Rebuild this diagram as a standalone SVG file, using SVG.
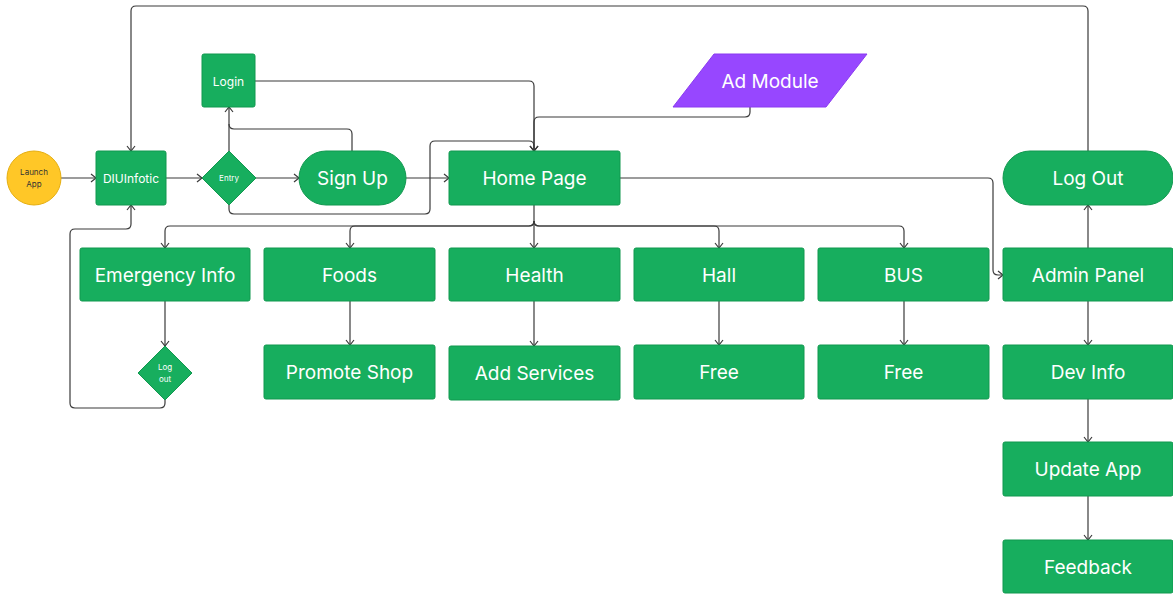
<svg xmlns="http://www.w3.org/2000/svg" width="1173" height="598" viewBox="0 0 1173 598">
<defs>
<style>
.n{fill:#17AE5E;stroke:#11984F;stroke-width:1}
.t{fill:#fff;font-family:Inter,"Liberation Sans",sans-serif;font-size:19px;text-anchor:middle;dominant-baseline:central}
.s{font-size:12px}
.xs{font-size:8px}
.c{fill:none;stroke:#3a3a3a;stroke-width:1.2}
.a{marker-end:url(#ar)}
</style>
<marker id="ar" markerWidth="10" markerHeight="10" refX="8" refY="5" orient="auto" markerUnits="userSpaceOnUse">
<path d="M3,1 L8,5 L3,9" fill="none" stroke="#3a3a3a" stroke-width="1.2"/>
</marker>
</defs>
<rect width="1173" height="598" fill="#fff"/>
<g id="connectors">
<path class="c a" d="M61,178 H96"/>
<path class="c a" d="M166,178 H202"/>
<path class="c a" d="M256,178 H299"/>
<path class="c a" d="M406,178 H449"/>
<path class="c a" d="M229,151 V107"/>
<path class="c" d="M352,151 V134 Q352,129 347,129 H234 Q229,129 229,124"/>
<path class="c a" d="M255,81 H529 Q534,81 534,86 V151"/>
<path class="c a" d="M750,107 V112 Q750,117 745,117 H539 Q534,117 534,122 V151"/>
<path class="c a" d="M229,205 V209 Q229,214 234,214 H425 Q430,214 430,209 V146 Q430,141 435,141 H529 Q534,141 534,146 V151"/>
<path class="c a" d="M534,205 V248"/>
<path class="c a" d="M534,221 Q534,226 529,226 H170 Q165,226 165,231 V248"/>
<path class="c a" d="M534,221 Q534,226 529,226 H355 Q350,226 350,231 V248"/>
<path class="c a" d="M534,221 Q534,226 539,226 H714 Q719,226 719,231 V248"/>
<path class="c a" d="M534,221 Q534,226 539,226 H899 Q904,226 904,231 V248"/>
<path class="c a" d="M620,178 H988 Q993,178 993,183 V270 Q993,275 998,275 H1003"/>
<path class="c a" d="M165,301 V346"/>
<path class="c a" d="M165,400 V403 Q165,408 160,408 H75 Q70,408 70,403 V234 Q70,229 75,229 H126 Q131,229 131,224 V205"/>
<path class="c a" d="M1088,151 V11 Q1088,6 1083,6 H136 Q131,6 131,11 V151"/>
<path class="c a" d="M1088,248 V205"/>
<path class="c a" d="M1088,301 V345"/>
<path class="c a" d="M1088,399 V442"/>
<path class="c a" d="M1088,496 V540"/>
<path class="c a" d="M350,301 V345"/>
<path class="c a" d="M534,301 V346"/>
<path class="c a" d="M719,301 V345"/>
<path class="c a" d="M904,301 V345"/>
</g>
<g id="launch"><circle cx="34" cy="178" r="27" fill="#FFC727" stroke="#E5AE10"/><text class="t xs" x="34" y="172" style="fill:#333">Launch</text><text class="t xs" x="34" y="184" style="fill:#333">App</text></g>
<g id="diuinfotic"><rect class="n" x="96" y="151" width="70" height="54" rx="2"/><text class="t s" x="131" y="178">DIUInfotic</text></g>
<g id="entry"><path class="n" d="M229,151 L256,178 L229,205 L202,178 Z"/><text class="t xs" x="229" y="178">Entry</text></g>
<g id="login"><rect class="n" x="202" y="54" width="53" height="53" rx="2"/><text class="t s" x="228.5" y="81">Login</text></g>
<g id="signup"><rect class="n" x="299" y="151" width="107" height="54" rx="27"/><text class="t" x="352.5" y="178">Sign Up</text></g>
<g id="home"><rect class="n" x="449" y="151" width="171" height="54" rx="2"/><text class="t" x="534.5" y="178">Home Page</text></g>
<g id="ad"><path d="M714,54 H867 L826,107 H673 Z" fill="#9747FF" stroke="#8A3BF0" stroke-linejoin="round"/><text class="t" x="770" y="81">Ad Module</text></g>
<g id="logoutTop"><rect class="n" x="1003" y="151" width="170" height="54" rx="27"/><text class="t" x="1088" y="178">Log Out</text></g>
<g id="emergency"><rect class="n" x="80" y="248" width="170" height="53" rx="2"/><text class="t" x="165" y="275">Emergency Info</text></g>
<g id="foods"><rect class="n" x="264" y="248" width="171" height="53" rx="2"/><text class="t" x="349.5" y="275">Foods</text></g>
<g id="health"><rect class="n" x="449" y="248" width="171" height="53" rx="2"/><text class="t" x="534.5" y="275">Health</text></g>
<g id="hall"><rect class="n" x="634" y="248" width="170" height="53" rx="2"/><text class="t" x="719" y="275">Hall</text></g>
<g id="bus"><rect class="n" x="818" y="248" width="171" height="53" rx="2"/><text class="t" x="903.5" y="275">BUS</text></g>
<g id="admin"><rect class="n" x="1003" y="248" width="170" height="53" rx="2"/><text class="t" x="1088" y="275">Admin Panel</text></g>
<g id="logoutDiamond"><path class="n" d="M165,346 L192,373 L165,400 L138,373 Z"/><text class="t xs" x="165" y="367">Log</text><text class="t xs" x="165" y="379">out</text></g>
<g id="promote"><rect class="n" x="264" y="345" width="171" height="54" rx="2"/><text class="t" x="349.5" y="372">Promote Shop</text></g>
<g id="addservices"><rect class="n" x="449" y="346" width="171" height="54" rx="2"/><text class="t" x="534.5" y="373">Add Services</text></g>
<g id="free1"><rect class="n" x="634" y="345" width="170" height="54" rx="2"/><text class="t" x="719" y="372">Free</text></g>
<g id="free2"><rect class="n" x="818" y="345" width="171" height="54" rx="2"/><text class="t" x="903.5" y="372">Free</text></g>
<g id="devinfo"><rect class="n" x="1003" y="345" width="170" height="54" rx="2"/><text class="t" x="1088" y="372">Dev Info</text></g>
<g id="update"><rect class="n" x="1003" y="442" width="170" height="54" rx="2"/><text class="t" x="1088" y="469">Update App</text></g>
<g id="feedback"><rect class="n" x="1003" y="540" width="170" height="53" rx="2"/><text class="t" x="1088" y="567">Feedback</text></g>
</svg>
